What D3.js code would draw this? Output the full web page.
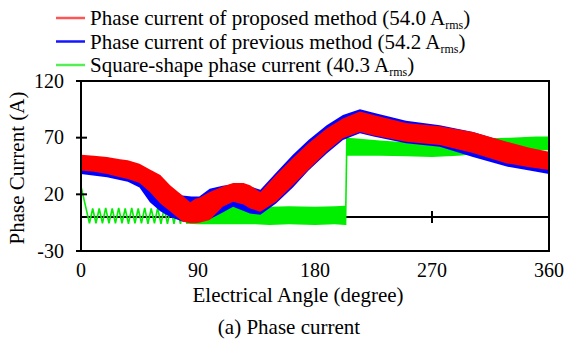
<!DOCTYPE html>
<html>
<head>
<meta charset="utf-8">
<script src="https://cdn.jsdelivr.net/npm/d3@7"></script>
<style>
  body { margin: 0; background: #fff; }
</style>
</head>
<body>
<svg id="chart" width="565" height="345"></svg>
<script>
// ticks
var angleTicks = [0, 90, 180, 270, 360];
var currentTicks = [-30, 20, 70, 120];

// proposed method (red) - ripple envelope, lo / hi
var redAngle = [0, 10, 20, 30, 36, 45, 53, 61, 68.5, 78, 84, 88, 91, 99, 109, 117, 125, 130, 138, 150, 163, 175, 189, 201.5, 214.6, 225, 250, 276, 301.5, 327.5, 345, 360];
var redLo    = [41, 40, 38, 35, 33.5, 30, 22, 12, 5, -4, -5.5, -5.5, -5, -2.6, 9, 13.5, 11, 7.6, 4.7, 13.5, 28, 42, 57.6, 69.4, 75, 72, 66.5, 63.5, 56.5, 47.3, 44, 41.5];
var redHi    = [55, 54, 53, 51, 50, 47, 42, 37, 28, 19, 13, 16, 17, 22, 27, 30, 30, 28, 22, 37, 52, 65, 78, 87, 93, 90, 83, 80, 75, 66.5, 61, 57.5];

// previous method (blue)
var blueAngle = [0, 20, 36, 45, 53, 61, 68.5, 78, 85, 91, 99, 109, 117, 130, 138, 150, 163, 175, 189, 201.5, 214.6, 225, 250, 276, 301.5, 327.5, 345, 360];
var blueLo    = [38, 35, 31, 26, 13, 5, 0, -4, -5, -4, -2, 4, 9, 3, 2, 12, 26, 41, 56, 68, 74, 71, 65, 62, 53, 44.5, 41, 38];
var blueHi    = [52, 51, 48, 45, 39, 34, 26, 19, 18, 18, 25, 27.5, 29, 27, 24, 39, 55, 68, 81, 90, 95, 92, 85, 81, 75, 66, 60, 56];

// square-shape current (green): visible zigzag at the start
var greenZigAngle = [0, 6.5, 9, 11.5, 14, 16.5, 19, 21.5, 24, 26.5, 29, 31.5, 34, 36.5, 39, 41.5, 44, 46.5, 49, 51.5, 54, 56.5, 59, 61.5, 64, 66.5, 69, 71.5, 74, 76.5, 79, 81.5];
var greenZigValue = [27, -5.5, 7.5, -5.5, 7.5, -5.5, 8, -5.5, 7.5, -5.5, 8, -5.5, 7.5, -6, 8, -5.5, 7.5, -5.5, 8, -6, 7.5, -5.5, 8, -6, 8, -6, 8, -6, 8, -6, 8, -6];
// then low band, jump, high band
var greenLowAngle = [81.5, 90, 100, 110, 118, 126, 134, 145, 160, 180, 195, 203.5];
var greenLowLo    = [-6, -6.5, -6.5, -6.5, -6.5, -6.5, -6.5, -7, -6.5, -7, -6.5, -7];
var greenLowHi    = [8, 8, 9, 11, 12, 10.5, 8.5, 9, 9.5, 9, 9.5, 10];
var greenHighAngle = [204.5, 210, 230, 250, 270, 290, 310, 330, 350, 359.3, 360];
var greenHighLo    = [54, 54, 54, 53.5, 53, 54, 56, 58, 59, 59, 30];
var greenHighHi    = [70, 69.5, 67.5, 66, 65.5, 67, 69.5, 70, 71, 71, 71];

var legendItems = [
  { label: "Phase current of proposed method (54.0 A", color: "#ff5555" },
  { label: "Phase current of previous method (54.2 A", color: "#1515ff" },
  { label: "Square-shape phase current (40.3 A", color: "#55ee55" }
];

var serif = "'Liberation Serif'";

var svg = d3.select("#chart");
var margin = {top: 81, right: 16, bottom: 94, left: 81};
var width = 565 - margin.left - margin.right,
    height = 345 - margin.top - margin.bottom;

var x = d3.scaleLinear().domain([0, 360]).range([margin.left, margin.left + width]);
var y = d3.scaleLinear().domain([-30, 120]).range([margin.top + height, margin.top]);

function band(angles, lo, hi) {
  return angles.map(function(a, i) { return {a: a, lo: lo[i], hi: hi[i]}; });
}
var area = d3.area()
  .x(function(d) { return x(d.a); })
  .y0(function(d) { return y(d.lo); })
  .y1(function(d) { return y(d.hi); });

// zero line with ticks
svg.append("line")
  .attr("x1", x(0)).attr("x2", x(360))
  .attr("y1", y(0)).attr("y2", y(0))
  .attr("stroke", "#000").attr("stroke-width", 2);
svg.selectAll(".zt")
  .data(angleTicks.slice(1, 4))
  .enter().append("line")
    .attr("class", "zt")
    .attr("x1", function(d) { return x(d); }).attr("x2", function(d) { return x(d); })
    .attr("y1", y(0) - 6).attr("y2", y(0) + 6)
    .attr("stroke", "#000").attr("stroke-width", 2);

// green
var gz = greenZigAngle.map(function(a, i) { return [x(a), y(greenZigValue[i])]; });
svg.append("path")
  .attr("d", d3.line()(gz))
  .attr("fill", "none").attr("stroke", "#00ee00").attr("stroke-width", 1.6);
svg.append("path")
  .attr("d", area(band(greenLowAngle, greenLowLo, greenLowHi)))
  .attr("fill", "#00ee00");
svg.append("line")
  .attr("x1", x(greenLowAngle[greenLowAngle.length - 1])).attr("y1", y(greenLowLo[greenLowLo.length - 1]))
  .attr("x2", x(greenHighAngle[0])).attr("y2", y(greenHighHi[0]))
  .attr("stroke", "#00ee00").attr("stroke-width", 1.6);
svg.append("path")
  .attr("d", area(band(greenHighAngle, greenHighLo, greenHighHi)))
  .attr("fill", "#00ee00");

// blue then red on top
svg.append("path")
  .attr("d", area(band(blueAngle, blueLo, blueHi)))
  .attr("fill", "#0000ff");
svg.append("path")
  .attr("d", area(band(redAngle, redLo, redHi)))
  .attr("fill", "#ff0000");

// frame
svg.append("rect")
  .attr("x", margin.left).attr("y", margin.top)
  .attr("width", width).attr("height", height)
  .attr("fill", "none").attr("stroke", "#000").attr("stroke-width", 2);

// y ticks + labels
svg.selectAll(".yt")
  .data(currentTicks)
  .enter().append("line")
    .attr("class", "yt")
    .attr("x1", margin.left - 5).attr("x2", margin.left + 6)
    .attr("y1", function(d) { return y(d); }).attr("y2", function(d) { return y(d); })
    .attr("stroke", "#000").attr("stroke-width", 2);
svg.selectAll(".yl")
  .data(currentTicks)
  .enter().append("text")
    .attr("class", "yl")
    .attr("x", 64)
    .attr("y", function(d) { return y(d) + 6.6; })
    .attr("text-anchor", "end")
    .style("font-family", serif).style("font-size", "20px")
    .text(function(d) { return d; });

// x labels
svg.selectAll(".xl")
  .data(angleTicks)
  .enter().append("text")
    .attr("class", "xl")
    .attr("x", function(d) { return x(d); })
    .attr("y", 277)
    .attr("text-anchor", "middle")
    .style("font-family", serif).style("font-size", "20px")
    .text(function(d) { return d; });

svg.append("text")
  .attr("x", 298).attr("y", 302)
  .attr("text-anchor", "middle")
  .style("font-family", serif).style("font-size", "21px")
  .text("Electrical Angle (degree)");

svg.append("text")
  .attr("x", 289).attr("y", 334)
  .attr("text-anchor", "middle")
  .style("font-family", serif).style("font-size", "21px")
  .text("(a) Phase current");

svg.append("text")
  .attr("transform", "translate(24,168) rotate(-90)")
  .attr("text-anchor", "middle")
  .style("font-family", serif).style("font-size", "21px")
  .text("Phase Current (A)");

// legend
var legend = svg.selectAll(".legend")
  .data(legendItems)
  .enter().append("g")
    .attr("class", "legend")
    .attr("transform", function(d, i) { return "translate(0," + (i * 23.5) + ")"; });
legend.append("line")
  .attr("x1", 56).attr("x2", 85)
  .attr("y1", 18).attr("y2", 18)
  .attr("stroke", function(d) { return d.color; })
  .attr("stroke-width", 2.5);
var lt = legend.append("text")
  .attr("x", 90).attr("y", 25)
  .style("font-family", serif).style("font-size", "21px");
lt.append("tspan").text(function(d) { return d.label; });
lt.append("tspan").attr("dy", 4).style("font-size", "12px").text("rms");
lt.append("tspan").attr("dy", -4).text(")");
</script>
</body>
</html>
